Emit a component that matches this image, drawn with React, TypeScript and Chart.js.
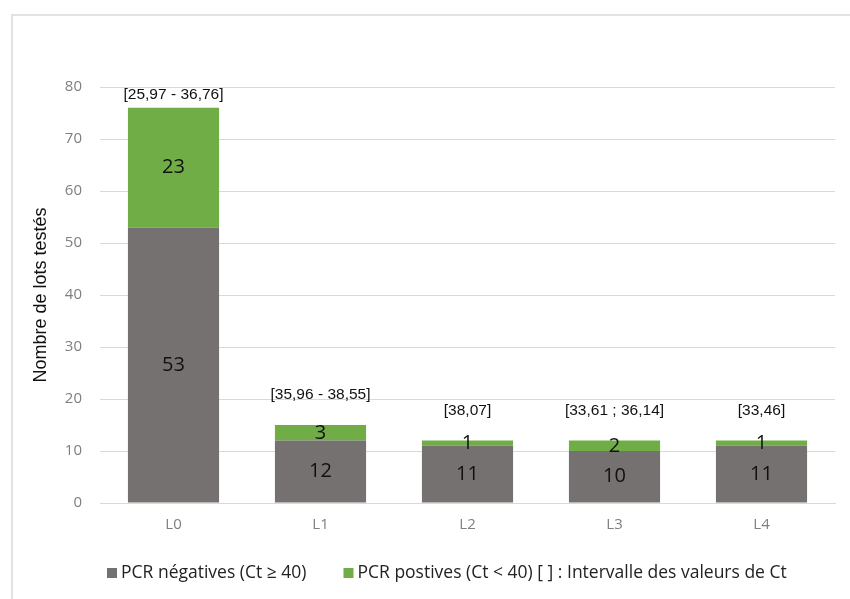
import React, { useEffect, useRef } from "react";
import { Chart, registerables } from "chart.js";

Chart.register(...registerables);

const categories = ["L0", "L1", "L2", "L3", "L4"];
const negatives = [53, 12, 11, 10, 11];
const positives = [23, 3, 1, 2, 1];
const intervals = ["[25,97 - 36,76]", "[35,96 - 38,55]", "[38,07]", "[33,61 ; 36,14]", "[33,46]"];
const negLabel = "PCR négatives (Ct ≥ 40)";
const posLabel = "PCR postives (Ct < 40) [ ] : Intervalle des valeurs de Ct";
const yTitle = "Nombre de lots testés";

const GREY = "#767171";
const GREEN = "#70ad47";

const labelPlugin = {
  id: "labelPlugin",
  afterDatasetsDraw(chart: any) {
    const ctx = chart.ctx;
    ctx.save();
    ctx.fillStyle = "#111";
    ctx.textAlign = "center";
    ctx.textBaseline = "middle";
    ctx.font = "20px 'Open Sans', sans-serif";
    chart.data.datasets.forEach((ds: any, di: number) => {
      const meta = chart.getDatasetMeta(di);
      meta.data.forEach((bar: any, i: number) => {
        const y = (bar.y + bar.base) / 2;
        ctx.fillText(String(ds.data[i]), bar.x, y);
      });
    });
    const top = chart.getDatasetMeta(chart.data.datasets.length - 1);
    ctx.font = "15.5px 'Liberation Sans', Arial, sans-serif";
    top.data.forEach((bar: any, i: number) => {
      const y = Math.max(bar.y - 30, chart.chartArea.top + 8);
      ctx.fillText(intervals[i], bar.x, y);
    });
    ctx.restore();
  },
};

const legendPlugin = {
  id: "customLegend",
  afterDraw(chart: any) {
    const ctx = chart.ctx;
    const area = chart.chartArea;
    const y = area.bottom + 70;
    let x = area.left + 7;
    ctx.save();
    ctx.font = "17.5px 'Open Sans', sans-serif";
    ctx.textBaseline = "middle";
    ctx.textAlign = "left";
    chart.data.datasets.forEach((ds: any) => {
      ctx.fillStyle = ds.backgroundColor;
      ctx.fillRect(x, y - 5, 10, 10);
      x += 14;
      ctx.fillStyle = "#222";
      ctx.fillText(ds.label, x, y);
      x += ctx.measureText(ds.label).width + 37;
    });
    ctx.restore();
  },
};

export default function App() {
  const ref = useRef<HTMLCanvasElement>(null);
  useEffect(() => {
    const chart = new Chart(ref.current!, {
      type: "bar",
      data: {
        labels: categories,
        datasets: [
          { label: negLabel, data: negatives, backgroundColor: GREY, barPercentage: 0.62, categoryPercentage: 1 },
          { label: posLabel, data: positives, backgroundColor: GREEN, barPercentage: 0.62, categoryPercentage: 1 },
        ],
      },
      options: {
        responsive: false,
        animation: false,
        layout: { padding: { left: 26, right: 15, top: 87, bottom: 60 } },
        plugins: {
          tooltip: { enabled: false },
          legend: { display: false },
        },
        scales: {
          x: {
            stacked: true,
            grid: { display: false },
            border: { color: "#d9d9d9", width: 1 },
            ticks: { color: "#7f7f7f", font: { family: "'Open Sans', sans-serif", size: 15 }, padding: 5 },
          },
          y: {
            stacked: true,
            min: 0,
            max: 80,
            ticks: { stepSize: 10, color: "#7f7f7f", font: { family: "'Open Sans', sans-serif", size: 15 }, padding: 18 },
            grid: { color: "#d9d9d9", lineWidth: 1, drawTicks: false },
            border: { display: false },
            title: {
              display: true,
              text: yTitle,
              color: "#111",
              font: { family: "'Liberation Sans', Arial, sans-serif", size: 18 },
            },
            afterFit: (s: any) => {
              s.width = 74;
            },
          },
        },
      },
      plugins: [labelPlugin, legendPlugin],
    });
    return () => chart.destroy();
  }, []);
  return (
    <div style={{ position: "fixed", left: 0, top: 0, width: 850, height: 599, background: "#fff" }}>
      <canvas ref={ref} width={850} height={599} style={{ position: "absolute", left: 0, top: 0 }} />
      <div
        style={{
          position: "absolute",
          left: 11,
          top: 14,
          right: 0,
          bottom: 0,
          borderLeft: "2px solid #e2e2e2",
          borderTop: "2px solid #e2e2e2",
          pointerEvents: "none",
        }}
      />
    </div>
  );
}
